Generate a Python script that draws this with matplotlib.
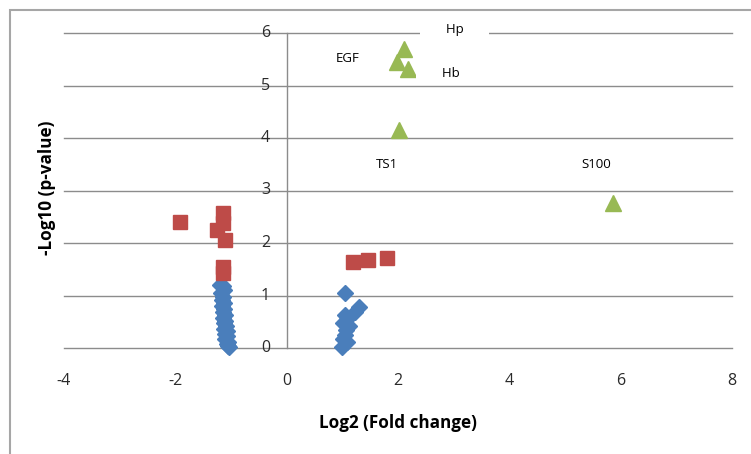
#!/usr/bin/env python3
import matplotlib
matplotlib.use('Agg')
import matplotlib.pyplot as plt
from matplotlib.patches import Rectangle

# not significant (blue diamonds)
ns_left_x = [-1.20, -1.15, -1.12, -1.18, -1.14, -1.16, -1.13, -1.17, -1.12, -1.15, -1.10, -1.14,
             -1.11, -1.13, -1.09, -1.12, -1.08, -1.11, -1.07, -1.10, -1.06, -1.08, -1.05, -1.03]
ns_left_y = [1.20, 1.18, 1.10, 1.05, 0.98, 0.92, 0.85, 0.80, 0.74, 0.68, 0.63, 0.58,
             0.52, 0.47, 0.42, 0.37, 0.32, 0.27, 0.22, 0.17, 0.12, 0.08, 0.04, 0.01]
ns_right_x = [1.05, 1.30, 1.22, 1.05, 1.08, 1.02, 1.12, 1.07, 1.02, 1.08, 1.04, 0.99]
ns_right_y = [1.04, 0.79, 0.69, 0.62, 0.55, 0.47, 0.41, 0.34, 0.18, 0.12, 0.25, 0.01]

# p < 0.05 (red squares)
sig_x = [-1.91, -1.15, -1.14, -1.26, -1.11, -1.15, -1.14, 1.20, 1.47, 1.81]
sig_y = [2.40, 2.58, 2.38, 2.25, 2.06, 1.55, 1.43, 1.64, 1.68, 1.72]

# top hits (green triangles)
top_x = [2.11, 1.98, 2.18, 2.02, 5.86]
top_y = [5.70, 5.45, 5.31, 4.15, 2.76]

labels = ['Hp', 'EGF', 'Hb', 'TS1', 'S100']
label_x = [3.02, 1.10, 2.95, 1.80, 5.57]
label_y = [6.06, 5.52, 5.22, 3.49, 3.49]
boxed = ['Hp', 'Hb']

xticks = [-4, -2, 0, 2, 4, 6, 8]
yticks = [0, 1, 2, 3, 4, 5, 6]

plt.rcParams['font.family'] = ['Open Sans', 'DejaVu Sans']

fig = plt.figure(figsize=(7.51, 4.54), dpi=100)
ax = fig.add_axes([64 / 751, 106 / 454, 668 / 751, 315 / 454])
ax.set_xlim(-4, 8)
ax.set_ylim(0, 6)

for y in yticks:
    ax.axhline(y, color='#8c8c8c', lw=1.0, zorder=1, clip_on=False)
ax.plot([0, 0], [0, 6], color='#8c8c8c', lw=1.0, zorder=1, clip_on=False)

ax.plot(ns_left_x, ns_left_y, 'D', color='#4a7ebb', ms=8.5, mec='#4a7ebb', zorder=3, clip_on=False)
ax.plot(ns_right_x, ns_right_y, 'D', color='#4a7ebb', ms=8.5, mec='#4a7ebb', zorder=3, clip_on=False)
ax.plot(sig_x, sig_y, 's', color='#be4b48', ms=10.5, mec='#be4b48', zorder=3, clip_on=False)
ax.plot(top_x, top_y, '^', color='#98b954', ms=11, mec='#98b954', zorder=3, clip_on=False)

for t, x, y in zip(labels, label_x, label_y):
    if t in boxed:
        ax.text(x, y, '      ' + t + '      ', ha='center', va='center', fontsize=9.5,
                color='black', zorder=4,
                bbox=dict(boxstyle='square,pad=0.35', fc='white', ec='none'))
    else:
        ax.text(x, y, t, ha='center', va='center', fontsize=9.5, color='black', zorder=4)

for s in ax.spines.values():
    s.set_visible(False)
ax.set_xticks([])
ax.set_yticks([])

# tick labels: y along the x=0 axis, x below the plot
for y in yticks:
    ax.text(-0.3, y, str(y), ha='right', va='center', fontsize=11.5, color='#2a2a2a')
for x in xticks:
    ax.annotate(str(x), (x, 0), xytext=(0, -23.5), textcoords='offset points',
                ha='center', va='center', fontsize=11.5, color='#2a2a2a')

fig.text(398 / 751, 1 - 423 / 454, 'Log2 (Fold change)', ha='center', va='center',
         fontsize=12.3, fontweight='bold')
fig.text(47 / 751, 1 - 188 / 454, '-Log10 (p-value)', ha='center', va='center',
         rotation=90, fontsize=12.3, fontweight='bold')

fig.patches.append(Rectangle((10 / 751, -0.1), 1.2, (444 / 454) + 0.1,
                             transform=fig.transFigure, fill=False,
                             ec='#a6a6a6', lw=1.5))

fig.savefig('out.png', dpi=100)
